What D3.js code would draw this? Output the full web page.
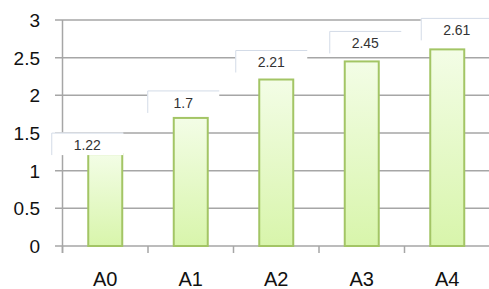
<!DOCTYPE html>
<html>
<head>
<meta charset="utf-8">
<script src="https://cdn.jsdelivr.net/npm/d3@7"></script>
<style>
  html, body { margin: 0; padding: 0; background: #fff; }
  svg { display: block; }
  text { font-family: "Liberation Sans", "DejaVu Sans", sans-serif; }
</style>
</head>
<body>
<svg width="489" height="289"></svg>
<script>
var categories = ['A0', 'A1', 'A2', 'A3', 'A4'];
var values = [1.22, 1.7, 2.21, 2.45, 2.61];
var valueLabels = ['1.22', '1.7', '2.21', '2.45', '2.61'];
var yTicks = [0, 0.5, 1, 1.5, 2, 2.5, 3];
var yTickLabels = ['0', '0.5', '1', '1.5', '2', '2.5', '3'];

// label callouts were dragged around by hand in the original
var labelShift = [-18, -7.5, -5, 3.5, 9.5];
var labelGap = [-1, 5, 7, 8, 9];

(function() {
  var svg = d3.select('svg')
  var plotLeft = 62.5, plotRight = 490, plotTop = 20, plotBottom = 246

  var x = d3.scaleBand().domain(categories).range([plotLeft, plotRight]).padding(0)
  var y = d3.scaleLinear().domain([0, 3]).range([plotBottom, plotTop])

  // gradient for bars
  var grad = svg.append('defs').append('linearGradient')
    .attr('id', 'barFill').attr('x1', 0).attr('y1', 0).attr('x2', 0).attr('y2', 1)
  grad.append('stop').attr('offset', '0%').attr('stop-color', '#f3fde6')
  grad.append('stop').attr('offset', '100%').attr('stop-color', '#d8f5ab')

  // grid lines (incl. baseline), with ticks sticking out on the left
  svg.append('g').selectAll('line').data(yTicks).enter().append('line')
    .attr('x1', plotLeft - 7.5).attr('x2', plotRight)
    .attr('y1', function(d) { return y(d) }).attr('y2', function(d) { return y(d) })
    .attr('stroke', '#a6a6a6').attr('stroke-width', 1.5)

  // category ticks under the baseline
  var bounds = categories.map(function(c) { return x(c) }).concat([plotRight])
  svg.append('g').selectAll('line').data(bounds).enter().append('line')
    .attr('x1', function(d) { return d }).attr('x2', function(d) { return d })
    .attr('y1', plotBottom).attr('y2', plotBottom + 7)
    .attr('stroke', '#a6a6a6').attr('stroke-width', 1.5)

  // vertical axis line
  svg.append('line')
    .attr('x1', plotLeft).attr('x2', plotLeft).attr('y1', plotTop).attr('y2', plotBottom + 7)
    .attr('stroke', '#a6a6a6').attr('stroke-width', 1.5)

  // y tick labels
  svg.append('g').selectAll('text').data(yTicks).enter().append('text')
    .attr('x', 40).attr('y', function(d) { return y(d) })
    .attr('dy', '0.36em')
    .attr('text-anchor', 'end')
    .attr('font-size', 19).attr('fill', '#111')
    .text(function(d, i) { return yTickLabels[i] })

  // x labels
  svg.append('g').selectAll('text').data(categories).enter().append('text')
    .attr('x', function(d) { return x(d) + x.bandwidth() / 2 })
    .attr('y', 286)
    .attr('text-anchor', 'middle')
    .attr('font-size', 20).attr('fill', '#111')
    .text(function(d) { return d })

  // bars
  var barW = 34
  svg.append('g').selectAll('rect').data(values).enter().append('rect')
    .attr('x', function(d, i) { return x(categories[i]) + x.bandwidth() / 2 - barW / 2 })
    .attr('y', function(d) { return y(d) })
    .attr('width', barW)
    .attr('height', function(d) { return plotBottom - y(d) })
    .attr('fill', 'url(#barFill)')
    .attr('stroke', '#a3c565').attr('stroke-width', 2)

  // value label callouts
  var boxW = 72, boxH = 22.5
  var labels = svg.append('g').selectAll('g').data(values).enter().append('g')
    .attr('transform', function(d, i) {
      var cx = x(categories[i]) + x.bandwidth() / 2 + labelShift[i]
      var by = y(d) - labelGap[i]
      return 'translate(' + (cx - boxW / 2) + ',' + (by - boxH) + ')'
    })
  labels.append('rect')
    .attr('width', boxW).attr('height', boxH).attr('fill', '#fff')
  labels.append('path')
    .attr('d', 'M0.5,' + boxH + 'V0.5H' + boxW)
    .attr('fill', 'none').attr('stroke', '#d3dbe7').attr('stroke-width', 1)
  labels.append('text')
    .attr('x', boxW / 2).attr('y', boxH / 2 + 1)
    .attr('dy', '0.36em')
    .attr('text-anchor', 'middle')
    .attr('font-size', 14).attr('fill', '#333')
    .text(function(d, i) { return valueLabels[i] })
})();
</script>
</body>
</html>
